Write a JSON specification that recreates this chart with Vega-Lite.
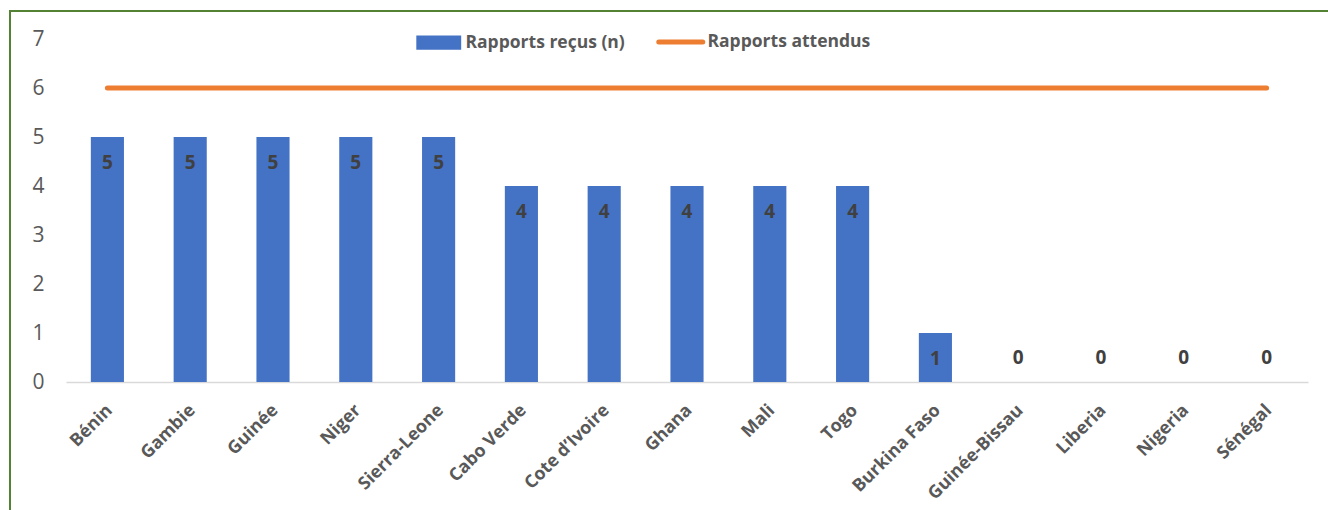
{
  "$schema": "https://vega.github.io/schema/vega-lite/v6.json",
  "width": 1320,
  "height": 500,
  "autosize": {"type": "none"},
  "padding": {"left": 10, "top": 11, "right": 0, "bottom": 0},
  "background": "white",
  "config": {
    "view": {"stroke": "#548235", "strokeWidth": 2},
    "font": "Open Sans"
  },
  "data": {
    "values": [
      {"pays": "Bénin", "recus": 5, "attendus": 6},
      {"pays": "Gambie", "recus": 5, "attendus": 6},
      {"pays": "Guinée", "recus": 5, "attendus": 6},
      {"pays": "Niger", "recus": 5, "attendus": 6},
      {"pays": "Sierra-Leone", "recus": 5, "attendus": 6},
      {"pays": "Cabo Verde", "recus": 4, "attendus": 6},
      {"pays": "Cote d’Ivoire", "recus": 4, "attendus": 6},
      {"pays": "Ghana", "recus": 4, "attendus": 6},
      {"pays": "Mali", "recus": 4, "attendus": 6},
      {"pays": "Togo", "recus": 4, "attendus": 6},
      {"pays": "Burkina Faso", "recus": 1, "attendus": 6},
      {"pays": "Guinée-Bissau", "recus": 0, "attendus": 6},
      {"pays": "Liberia", "recus": 0, "attendus": 6},
      {"pays": "Nigeria", "recus": 0, "attendus": 6},
      {"pays": "Sénégal", "recus": 0, "attendus": 6}
    ]
  },
  "encoding": {
    "x": {
      "field": "pays",
      "type": "nominal",
      "sort": null,
      "scale": {"range": [56, 1298], "paddingInner": 0.6, "paddingOuter": 0.3},
      "axis": {
        "title": null,
        "offset": -129,
        "labelAngle": -45,
        "labelFontSize": 17.8,
        "labelFontWeight": "bold",
        "labelColor": "#595959",
        "ticks": false,
        "domainColor": "#D9D9D9",
        "domainWidth": 1.5,
        "labelPadding": 19,
        "labelOffset": -4
      }
    }
  },
  "layer": [
    {
      "mark": {"type": "bar"},
      "encoding": {
        "y": {
          "field": "recus",
          "type": "quantitative",
          "scale": {"domain": [0, 7], "range": [371, 28], "nice": false, "zero": true},
          "axis": {
            "title": null,
            "offset": -56,
            "domain": false,
            "ticks": false,
            "grid": false,
            "labelPadding": 22,
            "labelFontSize": 21,
            "labelColor": "#595959",
            "format": "d",
            "values": [0, 1, 2, 3, 4, 5, 6, 7]
          }
        },
        "color": {
          "datum": "Rapports reçus (n)",
          "scale": {"domain": ["Rapports reçus (n)", "Rapports attendus"], "range": ["#4472C4", "#ED7D31"]},
          "legend": {
            "title": null,
            "orient": "none",
            "legendX": 420,
            "legendY": 22,
            "direction": "horizontal",
            "labelFontSize": 17.5,
            "labelFontWeight": "bold",
            "labelColor": "#595959",
            "labelLimit": 400,
            "symbolSize": 1936,
            "columnPadding": 23,
            "labelOffset": 18,
            "encode": {
              "symbols": {
                "update": {
                  "shape": {"signal": "datum.value === 'Rapports attendus' ? 'M-1,0H1' : 'M-1.02,-0.32H1.02V0.32H-1.02Z'"},
                  "fill": {"signal": "datum.value === 'Rapports attendus' ? 'transparent' : '#4472C4'"},
                  "stroke": {"signal": "datum.value === 'Rapports attendus' ? '#ED7D31' : 'transparent'"},
                  "strokeWidth": {"signal": "datum.value === 'Rapports attendus' ? 5 : 0"},
                  "strokeCap": {"value": "round"},
                  "opacity": {"value": 1}
                }
              }
            }
          }
        }
      }
    },
    {
      "mark": {"type": "line", "strokeWidth": 5, "strokeCap": "round"},
      "encoding": {
        "y": {"field": "attendus", "type": "quantitative"},
        "color": {"datum": "Rapports attendus"}
      }
    },
    {
      "transform": [{"filter": "datum.recus > 0"}],
      "mark": {"type": "text", "dy": 26, "fontWeight": "bold", "fontSize": 19, "color": "#404040", "baseline": "middle"},
      "encoding": {
        "y": {"field": "recus", "type": "quantitative"},
        "text": {"field": "recus", "type": "quantitative"}
      }
    },
    {
      "transform": [{"filter": "datum.recus == 0"}],
      "mark": {"type": "text", "dy": -24, "fontWeight": "bold", "fontSize": 19, "color": "#404040", "baseline": "middle"},
      "encoding": {
        "y": {"field": "recus", "type": "quantitative"},
        "text": {"field": "recus", "type": "quantitative"}
      }
    }
  ]
}
